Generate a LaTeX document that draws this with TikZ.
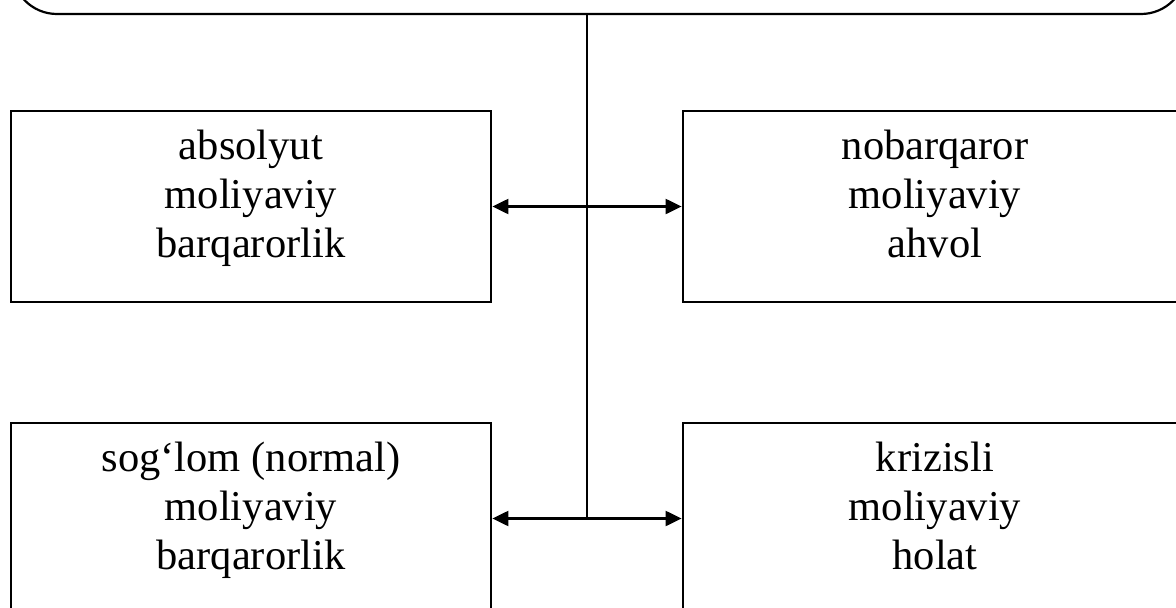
\documentclass[tikz,border=0pt]{standalone}
\usepackage{fontspec}
\setmainfont{Liberation Serif}
\usetikzlibrary{arrows.meta}
\begin{document}
\begin{tikzpicture}[x=1pt,y=-1pt,
  box/.style={draw,line width=2.8pt,minimum height=191pt,inner sep=0pt},
  lbox/.style={box,minimum width=480pt},
  rbox/.style={box,minimum width=504pt},
  txt/.style={align=center,inner sep=0pt,font={\fontsize{42.5}{49}\selectfont}},
  conn/.style={line width=2.2pt},
  arr/.style={conn,{Triangle[length=16pt,width=15pt]}-{Triangle[length=16pt,width=15pt]}}]
\useasboundingbox (0,0) rectangle (1176,608);
% top rounded box (cut off by the page)
\node[draw,line width=2.2pt,rounded corners=45pt,minimum width=1174pt,minimum height=200pt,inner sep=0pt] (top) at (599,-86) {};
% boxes
\node[lbox] (tl) at (251,206.5) {};
\node[rbox] (tr) at (935,206.5) {};
\node[lbox] (bl) at (251,518.5) {};
\node[rbox] (br) at (935,518.5) {};
\node[txt] (ttl) at ([yshift=7.5pt]tl.center) {\strut absolyut\\moliyaviy\\barqarorlik\strut};
\node[txt] (ttr) at ([yshift=7.5pt]tr.center) {\strut nobarqaror\\moliyaviy\\ahvol\strut};
\node[txt] (tbl) at ([yshift=7.5pt]bl.center) {\strut sog‘lom (normal)\\moliyaviy\\barqarorlik\strut};
\node[txt] (tbr) at ([yshift=7.5pt]br.center) {\strut krizisli\\moliyaviy\\holat\strut};
% connectors
\coordinate (j) at (587,518.5);
\draw[conn] (top.south -| j) -- (j);
\draw[arr] (tl.east) -- (tr.west);
\draw[arr] (bl.east) -- (br.west);
\end{tikzpicture}
\end{document}
